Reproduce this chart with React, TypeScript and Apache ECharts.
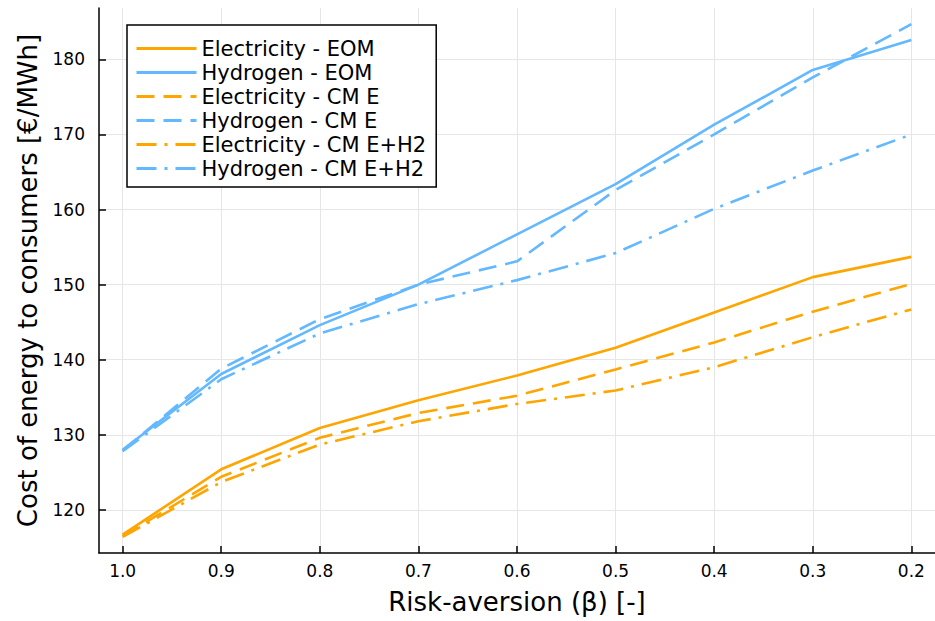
import React, { useEffect, useRef } from "react";
import * as echarts from "echarts";

const beta = [1.0, 0.9, 0.8, 0.7, 0.6, 0.5, 0.4, 0.3, 0.2];
const elecEOM = [116.7, 125.4, 130.9, 134.6, 137.9, 141.6, 146.3, 151.0, 153.7];
const h2EOM = [128.0, 138.1, 144.6, 150.0, 156.7, 163.4, 171.3, 178.6, 182.6];
const elecCME = [116.5, 124.4, 129.6, 132.9, 135.2, 138.7, 142.3, 146.4, 150.1];
const h2CME = [127.9, 138.8, 145.4, 150.0, 153.1, 162.6, 170.0, 177.6, 184.7];
const elecCMEH2 = [116.4, 123.7, 128.7, 131.8, 134.1, 135.9, 139.0, 143.0, 146.7];
const h2CMEH2 = [127.8, 137.4, 143.5, 147.4, 150.6, 154.2, 160.1, 165.2, 170.0];

const xTicks = [1.0, 0.9, 0.8, 0.7, 0.6, 0.5, 0.4, 0.3, 0.2];
const yTicks = [120, 130, 140, 150, 160, 170, 180];

const ORANGE = "#FFA500";
const BLUE = "#63B8FF";
const DASH = [18, 9];
const DASHDOT = [20, 8, 3, 8];

const seriesDefs = [
  { name: "Electricity - EOM", data: elecEOM, color: ORANGE, type: "solid" as any },
  { name: "Hydrogen - EOM", data: h2EOM, color: BLUE, type: "solid" as any },
  { name: "Electricity - CM E", data: elecCME, color: ORANGE, type: DASH as any },
  { name: "Hydrogen - CM E", data: h2CME, color: BLUE, type: DASH as any },
  { name: "Electricity - CM E+H2", data: elecCMEH2, color: ORANGE, type: DASHDOT as any },
  { name: "Hydrogen - CM E+H2", data: h2CMEH2, color: BLUE, type: DASHDOT as any },
];

export default function App() {
  const ref = useRef<HTMLDivElement>(null);
  useEffect(() => {
    if (!ref.current) return;
    const chart = echarts.init(ref.current, undefined, { renderer: "svg" });
    const font = "DejaVu Sans";
    chart.setOption({
      animation: false,
      backgroundColor: "#ffffff",
      textStyle: { fontFamily: font },
      grid: { left: 99, top: 8, right: 0, bottom: 68, containLabel: false },
      legend: {
        left: 127,
        top: 25,
        orient: "vertical",
        itemWidth: 60,
        itemHeight: 14,
        itemGap: 3,
        padding: [13, 10, 8, 8],
        borderColor: "#000",
        borderWidth: 1.5,
        backgroundColor: "#fff",
        itemStyle: { opacity: 0, color: "transparent", borderWidth: 0 },
        lineStyle: { width: 3 },
        textStyle: { fontSize: 21, color: "#000", fontFamily: font },
        data: seriesDefs.map((s) => s.name),
      },
      xAxis: {
        type: "value",
        inverse: true,
        min: 0.176,
        max: 1.024,
        name: "Risk-aversion (β) [-]",
        nameLocation: "middle",
        nameGap: 36,
        nameTextStyle: { fontSize: 26, color: "#000", fontFamily: font },
        axisLine: { show: true, onZero: false, lineStyle: { color: "#000", width: 1.5 } },
        axisTick: { show: true, inside: true, length: 7, customValues: xTicks, lineStyle: { color: "#000", width: 1.5 } },
        axisLabel: {
          customValues: xTicks,
          fontSize: 17,
          color: "#000",
          margin: 9,
          formatter: (v: number) => v.toFixed(1),
        },
        splitLine: { show: true, lineStyle: { color: "#e6e6e6", width: 1 } },
      },
      yAxis: {
        type: "value",
        min: 114.25,
        max: 186.85,
        name: "Cost of energy to consumers [€/MWh]",
        nameLocation: "middle",
        nameGap: 58,
        nameTextStyle: { fontSize: 26, color: "#000", fontFamily: font },
        axisLine: { show: true, onZero: false, lineStyle: { color: "#000", width: 1.5 } },
        axisTick: { show: true, inside: true, length: 7, customValues: yTicks, lineStyle: { color: "#000", width: 1.5 } },
        axisLabel: { customValues: yTicks, fontSize: 17, color: "#000", margin: 14 },
        splitLine: { show: true, lineStyle: { color: "#e6e6e6", width: 1 } },
      },
      series: seriesDefs.map((s) => ({
        name: s.name,
        type: "line",
        data: beta.map((b, i) => [b, s.data[i]]),
        showSymbol: false,
        symbol: "none",
        color: s.color,
        lineStyle: { color: s.color, width: 2.6, type: s.type },
      })),
    });
    return () => chart.dispose();
  }, []);
  return <div ref={ref} style={{ width: 935, height: 621, position: "absolute", left: 0, top: 0 }} />;
}
